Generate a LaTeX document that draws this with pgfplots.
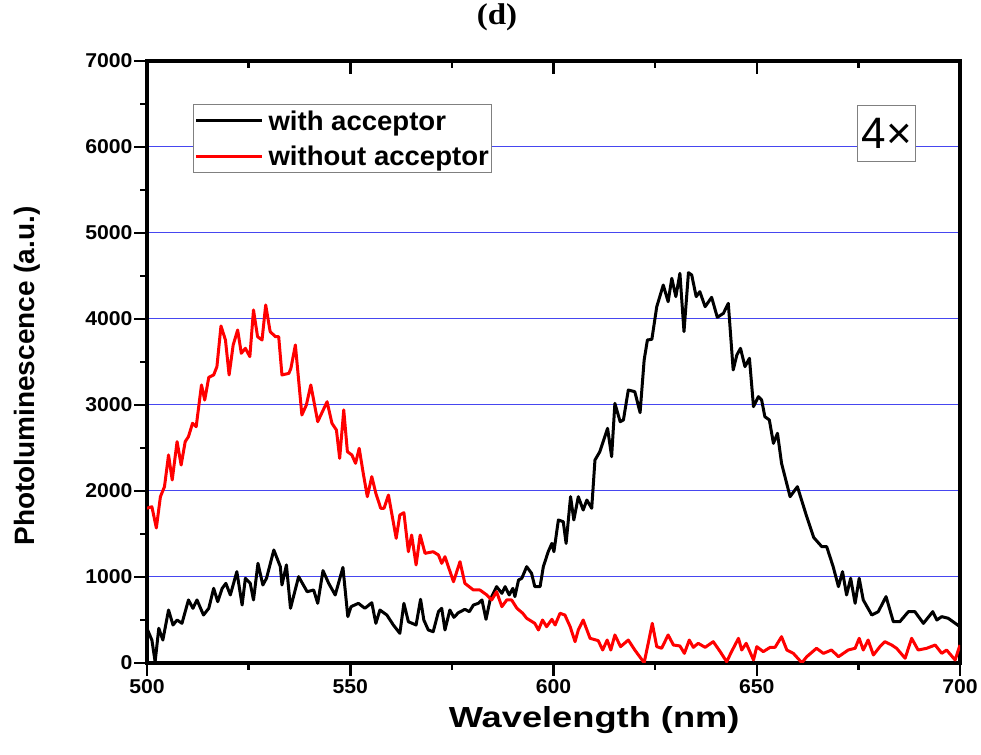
\documentclass[border=0pt]{standalone}
\usepackage{pgfplots}
\pgfplotsset{compat=1.18}
\usepackage{fontspec}
\setmainfont{Liberation Sans}
\newfontfamily\stsans{Liberation Sans}[FakeStretch=1.06]
\newfontfamily\lgsans{Liberation Sans}[FakeStretch=1.02]
\newfontfamily\xlsans{Liberation Sans}[FakeStretch=1.25]
\newfontfamily\plsans{Liberation Sans}
\newfontfamily\ttlfont{Liberation Serif}[FakeStretch=1.1]
\definecolor{gridblue}{RGB}{70,70,240}
\begin{document}
\begin{tikzpicture}
\path[use as bounding box] (0,0) rectangle (981bp,755bp);
\begin{axis}[
 at={(147bp,92bp)}, anchor=south west,
 width=813bp, height=602bp, scale only axis,
 xmin=500, xmax=700, ymin=0, ymax=7000,
 xtick={500,550,...,700}, minor xtick={525,575,625,675},
 ytick={0,1000,...,7000}, minor ytick={500,1500,...,6500},
 xtick pos=left, ytick pos=left, tick align=outside,
 major tick length=13bp, minor tick length=7bp,
 every tick/.style={black, line width=2.5bp},
 axis line style={line width=3.5bp},
 ymajorgrids, grid style={gridblue, line width=1bp},
 /pgf/number format/assume math mode=true,
 /pgf/number format/1000 sep={},
 ticklabel style={font=\stsans\bfseries\fontsize{20bp}{23bp}\selectfont},
 yticklabel style={xshift=2bp},
 xlabel={Wavelength (nm)},
 xlabel style={at={(axis description cs:0.55,-0.094)}, anchor=center, font=\xlsans\bfseries\fontsize{29bp}{33bp}\selectfont},
 ylabel={Photoluminescence (a.u.)},
 ylabel style={at={(axis description cs:-0.1476,0.4767)}, anchor=center, font=\plsans\bfseries\fontsize{28bp}{32bp}\selectfont},
 title={(d)},
 title style={at={(axis description cs:0.4305,1.062)}, anchor=center, font=\ttlfont\bfseries\fontsize{30bp}{34bp}\selectfont},
 legend style={at={(axis description cs:0.0566,0.9286)}, anchor=north west, draw=gray, line width=1bp, fill=white,
   font=\lgsans\bfseries\fontsize{27bp}{30bp}\selectfont, inner xsep=1bp, inner ysep=4bp, row sep=10bp,
   /tikz/every odd column/.append style={column sep=3bp},
   /tikz/every even column/.append style={column sep=2bp}},
 legend cell align=left,
 legend image code/.code={\draw[#1] (0bp,0bp) -- (66bp,0bp);},
]
\addplot[black, line width=3bp, line join=round] coordinates {
(500,400)(501.2,267)(502.0,15)(502.9,403)(503.9,267)(505.3,616)(506.4,442)(507.4,500)(508.6,461)
(510.2,733)(511.3,636)(512.3,733)(513.9,558)(515.2,636)(516.4,868)(517.4,713)(518.5,868)(519.4,926)
(520.5,791)(522.1,1062)(523.4,674)(524.2,985)(525.4,926)(526.2,733)(527.3,1159)(528.5,907)(529.4,985)
(531.2,1314)(532.8,1120)(533.2,907)(534.3,1140)(535.3,636)(537.3,1004)(539.4,829)(541.0,849)(542.0,694)
(543.3,1074)(544.7,926)(546.3,791)(548.2,1112)(549.4,539)(550.2,655)(552.0,694)(553.6,636)(555.3,701)
(556.3,461)(557.3,616)(559.0,558)(560.6,442)(562.2,345)(563.2,694)(564.3,480)(566.2,442)(567.3,741)
(568.1,500)(569.2,384)(570.4,364)(571.7,597)(572.5,636)(573.3,384)(574.5,616)(575.5,531)(576.6,585)
(578.2,624)(579.3,597)(580.3,674)(581.5,694)(582.4,733)(583.4,508)(584.4,733)(586.0,888)(587.3,810)
(588.1,888)(589.1,791)(590.0,868)(590.5,772)(591.4,965)(592.2,985)(593.4,1120)(594.6,1043)(595.4,888)
(596.7,888)(597.5,1120)(598.7,1294)(599.6,1391)(600.1,1294)(601.2,1663)(602.4,1643)(603.1,1391)
(604.2,1934)(605.0,1663)(606.1,1934)(607.3,1779)(608.2,1895)(609.4,1799)(610.2,2360)(611.4,2457)
(613.3,2729)(614.3,2399)(615.1,3019)(616.4,2806)(617.2,2826)(618.4,3174)(620.0,3155)(621.3,2911)
(622.3,3523)(623.1,3756)(624.2,3764)(625.4,4143)(627.0,4395)(628.2,4201)(629.1,4473)(630.1,4260)
(631.1,4531)(632.1,3853)(633.2,4539)(634.0,4512)(635.1,4260)(636.0,4318)(637.3,4143)(638.9,4252)
(640.3,4019)(641.8,4066)(643.0,4182)(644.2,3407)(645.1,3581)(646.0,3659)(647.1,3446)(648.2,3543)
(649.2,2981)(650.4,3097)(651.2,3058)(652.0,2864)(653.1,2826)(654.1,2554)(655.1,2671)(656.1,2322)
(658.2,1934)(660.0,2050)(662.3,1701)(664.0,1460)(666.0,1353)(667.2,1353)(668.8,1120)(670.1,888)
(671.1,1062)(672.1,791)(673.1,985)(674.2,694)(675.2,985)(676.2,733)(678.3,558)(679.9,597)(681.8,772)
(683.6,480)(685.2,480)(687.3,597)(688.9,597)(691.0,461)(693.3,597)(694.3,500)(695.5,539)(697.1,520)
(700,422)
};
\addlegendentry{with acceptor}
\addplot[red, line width=3bp, line join=round] coordinates {
(500,1800)(501.2,1817)(502.3,1570)(503.3,1934)(504.3,2050)(505.3,2419)(506.2,2128)(507.4,2574)
(508.4,2302)(509.4,2574)(510.2,2632)(511.2,2787)(512.1,2748)(513.4,3233)(514.2,3058)(515.2,3322)
(516.4,3349)(517.2,3446)(518.2,3919)(519.3,3756)(520.2,3349)(521.2,3698)(522.3,3872)(523.2,3601)
(524.2,3659)(525.3,3562)(526.2,4105)(527.2,3794)(528.3,3756)(529.2,4163)(530.3,3853)(531.6,3794)
(532.4,3794)(533.2,3349)(534.9,3368)(535.4,3426)(536.5,3698)(538.1,2884)(539.2,3000)(540.3,3233)
(542.0,2806)(544.3,3038)(545.5,2787)(546.6,2709)(547.4,2380)(548.4,2942)(549.3,2457)(550.4,2419)
(551.3,2322)(552.2,2496)(553.2,2205)(554.2,1934)(555.3,2167)(556.3,1973)(557.5,1799)(558.3,1799)
(559.4,1953)(561.3,1450)(562.2,1721)(563.2,1748)(564.3,1294)(565.1,1488)(566.2,1140)(567.2,1488)
(568.4,1275)(570.4,1294)(571.7,1256)(572.5,1159)(573.3,1236)(575.4,945)(577.0,1178)(578.2,926)
(580.3,849)(581.9,849)(583.6,791)(584.8,733)(586.0,829)(587.3,655)(588.5,733)(589.7,733)(591.0,636)
(592.4,580)(593.4,520)(595.4,461)(596.3,384)(597.3,500)(598.3,422)(599.6,508)(600.4,442)(601.6,578)
(602.8,558)(604.1,422)(605.3,248)(606.1,384)(607.3,500)(609.0,287)(611.0,260)(612.1,151)(613.2,267)
(614.1,151)(615.1,326)(616.5,190)(618.4,267)(620.0,151)(622.3,3)(623.3,229)(624.3,461)(625.4,190)
(626.6,171)(628.2,326)(629.5,209)(631.1,198)(632.2,112)(633.4,267)(634.4,182)(635.6,229)(637.3,182)
(639.3,248)(641.0,132)(642.6,15)(643.8,132)(645.5,287)(646.3,151)(647.4,229)(649.2,35)(650.0,190)
(651.6,132)(653.3,182)(654.5,182)(656.1,306)(657.4,151)(659.0,112)(661.1,3)(662.3,73)(664.7,171)
(666.4,112)(668.4,151)(670.1,73)(672.5,151)(674.2,171)(675.2,287)(676.2,151)(677.4,267)(678.7,93)
(680.3,190)(681.5,248)(683.2,209)(684.4,171)(686.5,55)(688.1,287)(689.7,151)(691.8,171)(693.9,209)
(695.5,112)(696.7,151)(698.8,35)(700,209)
};
\addlegendentry{without acceptor}
\node[draw=gray, line width=1bp, fill=white, minimum width=58bp, minimum height=56bp, inner sep=0pt,
  font=\plsans\fontsize{44bp}{48bp}\selectfont] at (axis description cs:0.910,0.880) {4×};
\end{axis}
\begin{axis}[
 at={(147bp,92bp)}, anchor=south west,
 width=813bp, height=602bp, scale only axis,
 xmin=500, xmax=700, ymin=0, ymax=7000,
 axis x line*=top, axis y line=none,
 xtick={550,600,650}, minor xtick={525,575,625,675},
 xticklabels={}, ytick=\empty,
 tick align=inside,
 major tick length=13bp, minor tick length=7bp,
 every tick/.style={black, line width=2.5bp},
 axis line style={line width=3bp},
]
\end{axis}
\end{tikzpicture}
\end{document}
